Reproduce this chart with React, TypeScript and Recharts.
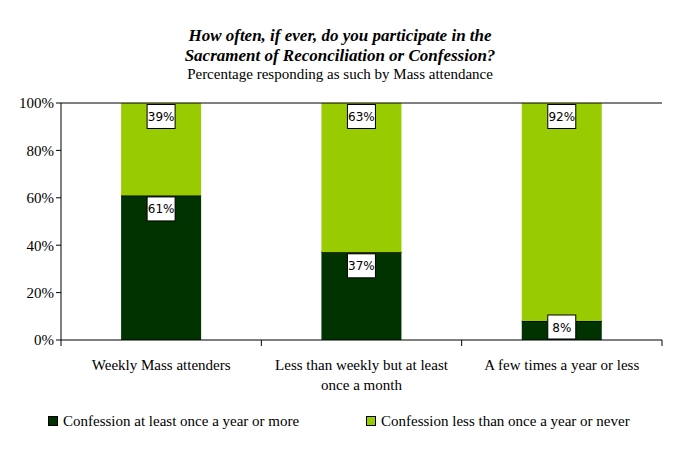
import { BarChart, Bar, XAxis, YAxis, LabelList, ReferenceLine } from "recharts"

const categories = [
  "Weekly Mass attenders",
  "Less than weekly but at least once a month",
  "A few times a year or less",
]
const atLeastYearly = [0.61, 0.37, 0.08]
const lessThanYearly = [0.39, 0.63, 0.92]
const yTicks = [0, 0.2, 0.4, 0.6, 0.8, 1]
const seriesNames = ["Confession at least once a year or more", "Confession less than once a year or never"]

const DARK = "#003300"
const LIGHT = "#99cc00"
const SERIF = "'Liberation Serif', 'Times New Roman', serif"

const data = categories.map((name, i) => ({
  name,
  yearly: atLeastYearly[i],
  never: lessThanYearly[i],
}))

const wrap = (text: string, max: number) => {
  const lines: string[] = []
  let cur = ""
  for (const w of text.split(" ")) {
    const next = cur ? cur + " " + w : w
    if (next.length > max && cur) {
      lines.push(cur)
      cur = w
    } else cur = next
  }
  if (cur) lines.push(cur)
  return lines
}

const CategoryTick = (props: any) => {
  const { x, y, payload, index } = props
  const band = 601 / 3
  const lines = wrap(payload.value, 29)
  return (
    <g>
      {index === 0 && <line x1={x - band / 2} x2={x - band / 2} y1={y - 8} y2={y - 2} stroke="#000" />}
      <line x1={x + band / 2} x2={x + band / 2} y1={y - 8} y2={y - 2} stroke="#000" />
      {lines.map((l, i) => (
        <text key={i} x={x} y={y + 22 + i * 20} textAnchor="middle" fontFamily={SERIF} fontSize={15} fill="#000">
          {l}
        </text>
      ))}
    </g>
  )
}

const BoxLabel = (props: any) => {
  const { x, y, width, height, value } = props
  const bw = 28
  const bh = 24
  const cx = x + width / 2
  let top = y + 1.5
  if (top + bh > y + height) top = y + height - bh - 1
  return (
    <g>
      <rect x={cx - bw / 2} y={top} width={bw} height={bh} fill="#fff" stroke="#000" strokeWidth={1} />
      <text x={cx} y={top + bh / 2 + 4.5} textAnchor="middle" fontFamily="'DejaVu Sans', sans-serif" fontSize={12} fill="#000">
        {Math.round(value * 100)}%
      </text>
    </g>
  )
}

const DarkShape = (props: any) => {
  const { x, y, width, height } = props
  return (
    <g>
      <rect x={x} y={y} width={width} height={height} fill={DARK} />
      <line x1={x} x2={x + width} y1={y} y2={y} stroke="#000" strokeWidth={1.5} />
    </g>
  )
}

export default function App() {
  return (
    <div style={{ position: "absolute", left: 0, top: 0, width: 674, height: 452, background: "#fff", fontFamily: SERIF }}>
      <div style={{ position: "absolute", top: 26, width: 680, textAlign: "center", fontSize: 17, fontWeight: "bold", fontStyle: "italic", lineHeight: "20px" }}>
        How often, if ever, do you participate in the
        <br />
        Sacrament of Reconciliation or Confession?
      </div>
      <div style={{ position: "absolute", top: 65, width: 680, textAlign: "center", fontSize: 15, lineHeight: "18px" }}>
        Percentage responding as such by Mass attendance
      </div>
      <BarChart
        width={674}
        height={452}
        data={data}
        barCategoryGap="30%"
        margin={{ top: 103, right: 12, left: 0, bottom: 52 }}
      >
        <XAxis
          dataKey="name"
          height={60}
          tickLine={false}
          axisLine={{ stroke: "#000" }}
          tick={<CategoryTick />}
          interval={0}
        />
        <YAxis
          width={61}
          domain={[0, 1]}
          ticks={yTicks}
          tickFormatter={(v: number) => `${Math.round(v * 100)}%`}
          axisLine={{ stroke: "#000" }}
          tickLine={{ stroke: "#000" }}
          tickSize={5}
          tick={{ fill: "#000", fontSize: 15, fontFamily: SERIF }}
        />
        <YAxis yAxisId="right" orientation="right" width={0} domain={[0, 1]} tick={false} tickLine={false} axisLine={{ stroke: "#000" }} />
        <ReferenceLine y={1} stroke="#000" ifOverflow="extendDomain" />
        <Bar dataKey="yearly" stackId="a" fill={DARK} shape={<DarkShape />} isAnimationActive={false}>
          <LabelList dataKey="yearly" content={<BoxLabel />} />
        </Bar>
        <Bar dataKey="never" stackId="a" fill={LIGHT} isAnimationActive={false}>
          <LabelList dataKey="never" content={<BoxLabel />} />
        </Bar>
      </BarChart>
      <div style={{ position: "absolute", top: 412, left: 48, fontSize: 15, lineHeight: "18px", display: "flex", alignItems: "center" }}>
        <span style={{ width: 8, height: 8, background: DARK, border: "1px solid #000", marginRight: 5 }} />
        {seriesNames[0]}
      </div>
      <div style={{ position: "absolute", top: 412, left: 366, fontSize: 15, lineHeight: "18px", display: "flex", alignItems: "center" }}>
        <span style={{ width: 8, height: 8, background: LIGHT, border: "1px solid #000", marginRight: 5 }} />
        {seriesNames[1]}
      </div>
    </div>
  )
}
